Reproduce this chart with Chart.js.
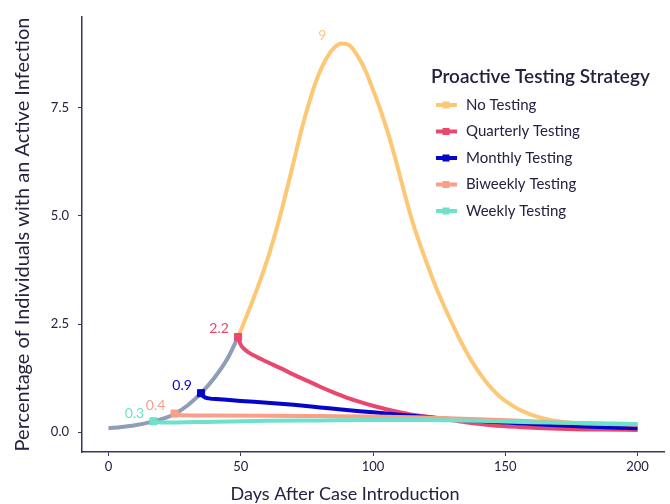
<!DOCTYPE html>
<html>
<head>
<meta charset="utf-8">
<script src="https://cdn.jsdelivr.net/npm/chart.js@4.4.0/dist/chart.umd.min.js"></script>
<style>
  html, body { margin: 0; padding: 0; background: #fff; }
</style>
</head>
<body>
<canvas id="infectionChart" width="670" height="504"></canvas>
<script>
// days / values
const sharedDays = [0, 5, 10, 15, 20, 25, 30, 35, 40, 45, 49];
const sharedVals = [0.09, 0.12, 0.16, 0.22, 0.3, 0.42, 0.62, 0.9, 1.25, 1.7, 2.2];

const noTestDays = [49, 52, 55, 58, 61, 64, 67, 70, 73, 76, 79, 82, 85, 88, 91, 94, 97, 100, 103, 106, 109, 112, 115, 118, 121, 124, 127, 130, 133, 136, 139, 142, 145, 148, 151, 155, 160, 165, 170, 175, 180, 190, 200];
const noTestVals = [2.2, 2.65, 3.12, 3.62, 4.17, 4.8, 5.5, 6.25, 7.0, 7.65, 8.2, 8.6, 8.87, 8.99, 8.95, 8.72, 8.38, 7.92, 7.42, 6.85, 6.2, 5.5, 4.85, 4.3, 3.8, 3.32, 2.9, 2.5, 2.12, 1.78, 1.48, 1.22, 1.0, 0.82, 0.68, 0.53, 0.4, 0.31, 0.25, 0.21, 0.19, 0.18, 0.17];

const quarterlyDays = [49, 50, 51, 52.5, 55, 60, 65, 70, 75, 80, 85, 90, 95, 100, 105, 110, 115, 120, 127, 135, 145, 155, 170, 185, 200];
const quarterlyVals = [2.2, 2.02, 1.94, 1.86, 1.77, 1.62, 1.48, 1.33, 1.19, 1.05, 0.92, 0.8, 0.7, 0.61, 0.53, 0.46, 0.4, 0.36, 0.3, 0.23, 0.16, 0.12, 0.08, 0.06, 0.05];

const monthlyDays = [35, 36, 38, 42, 50, 60, 70, 80, 90, 100, 110, 120, 130, 140, 150, 165, 180, 200];
const monthlyVals = [0.9, 0.82, 0.78, 0.76, 0.72, 0.68, 0.63, 0.57, 0.51, 0.46, 0.4, 0.35, 0.3, 0.26, 0.22, 0.17, 0.13, 0.09];

const biweeklyDays = [25, 26, 28, 40, 60, 80, 100, 120, 140, 160, 180, 200];
const biweeklyVals = [0.43, 0.4, 0.39, 0.385, 0.38, 0.37, 0.36, 0.34, 0.3, 0.25, 0.2, 0.17];

const weeklyDays = [17, 18, 20, 40, 60, 80, 100, 120, 140, 160, 180, 200];
const weeklyVals = [0.25, 0.23, 0.22, 0.24, 0.26, 0.27, 0.28, 0.28, 0.26, 0.23, 0.21, 0.19];

const strategyNames = ['No Testing', 'Quarterly Testing', 'Monthly Testing', 'Biweekly Testing', 'Weekly Testing'];
const strategyColors = ['#fdc876', '#e8486e', '#0505cc', '#f99f8a', '#6ce2c8'];
const pointLabels = ['9', '2.2', '0.9', '0.4', '0.3'];

const xTicks = [0, 50, 100, 150, 200];
const yTicks = [0, 2.5, 5, 7.5];
const yTickLabels = ['0.0', '2.5', '5.0', '7.5'];

const textColor = '#24223f';
const axisColor = '#3b3756';
const fontName = 'Lato';

const toPoints = (days, vals) => days.map((d, i) => ({ x: d, y: vals[i] }));

const seriesDays = [noTestDays, quarterlyDays, monthlyDays, biweeklyDays, weeklyDays];
const seriesVals = [noTestVals, quarterlyVals, monthlyVals, biweeklyVals, weeklyVals];

const datasets = strategyNames.map((name, i) => ({
  label: name,
  data: toPoints(seriesDays[i], seriesVals[i]),
  borderColor: strategyColors[i],
  backgroundColor: strategyColors[i],
  pointStyle: 'rect',
  // only the testing strategies get a marker where they split off
  pointRadius: ctx => (i > 0 && ctx.dataIndex === 0) ? 5 : 0,
  pointBorderWidth: 1,
  order: 5 - i
}));

datasets.push({
  label: 'shared',
  data: toPoints(sharedDays, sharedVals),
  borderColor: '#909db6',
  pointRadius: 0,
  order: 6
});

// labels for the split points and for the no-testing peak
const annotate = {
  id: 'annotate',
  afterDatasetsDraw(chart) {
    const { ctx, scales: { x, y } } = chart;
    ctx.save();
    ctx.font = '14px ' + fontName;
    ctx.textAlign = 'center';
    ctx.textBaseline = 'middle';
    for (let i = 0; i < strategyNames.length; i++) {
      let idx = 0;
      if (i === 0) idx = noTestVals.indexOf(Math.max(...noTestVals));
      const px = x.getPixelForValue(seriesDays[i][idx]);
      const py = y.getPixelForValue(seriesVals[i][idx]);
      ctx.fillStyle = strategyColors[i];
      ctx.fillText(pointLabels[i], px - 19, py - 8);
    }

    // legend
    ctx.textAlign = 'left';
    ctx.fillStyle = textColor;
    ctx.font = '600 19px ' + fontName;
    ctx.fillText('Proactive Testing Strategy', 431, 77);
    ctx.font = '15px ' + fontName;
    strategyNames.forEach((name, i) => {
      const ry = 105 + i * 26.5;
      ctx.strokeStyle = strategyColors[i];
      ctx.lineWidth = 4;
      ctx.beginPath();
      ctx.moveTo(436, ry);
      ctx.lineTo(457, ry);
      ctx.stroke();
      ctx.fillStyle = strategyColors[i];
      ctx.fillRect(442.5, ry - 3.5, 7, 7);
      ctx.fillStyle = textColor;
      ctx.fillText(name, 466, ry);
    });

    // x axis title
    ctx.textAlign = 'center';
    ctx.font = '18px ' + fontName;
    ctx.fillText('Days After Case Introduction', 345, 494);
    ctx.restore();
  }
};

new Chart(document.getElementById('infectionChart'), {
  type: 'line',
  data: { datasets: datasets },
  options: {
    responsive: false,
    animation: false,
    layout: { padding: { top: 17, right: 0, bottom: 0, left: 0 } },
    elements: { line: { borderWidth: 4, cubicInterpolationMode: 'monotone' } },
    plugins: { legend: { display: false }, tooltip: { enabled: false } },
    scales: {
      x: {
        type: 'linear',
        min: -10,
        max: 210,
        afterBuildTicks: s => { s.ticks = xTicks.map(v => ({ value: v })); },
        afterFit: s => { s.height = 52; },
        grid: { drawOnChartArea: false, tickLength: 4, color: axisColor },
        border: { color: axisColor, width: 1.5 },
        ticks: { color: textColor, font: { family: fontName, size: 13 }, padding: 3, maxRotation: 0 }
      },
      y: {
        min: -0.46,
        max: 9.6,
        afterBuildTicks: s => { s.ticks = yTicks.map(v => ({ value: v })); },
        afterFit: s => { s.width = 82; },
        grid: { drawOnChartArea: false, tickLength: 4, color: axisColor },
        border: { color: axisColor, width: 1.5 },
        ticks: {
          color: textColor,
          font: { family: fontName, size: 13 },
          padding: 9,
          callback: v => yTickLabels[yTicks.indexOf(v)]
        },
        title: {
          display: true,
          text: 'Percentage of Individuals with an Active Infection',
          color: textColor,
          font: { family: fontName, size: 20 },
          padding: { top: 11, bottom: 0 }
        }
      }
    }
  },
  plugins: [annotate]
});
</script>
</body>
</html>
